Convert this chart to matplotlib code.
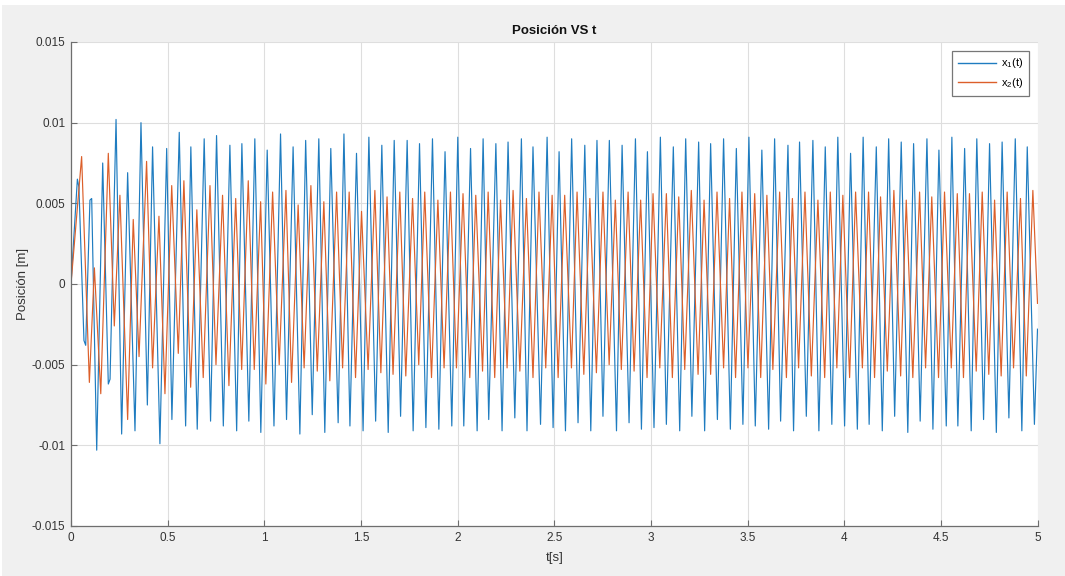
import matplotlib
matplotlib.use("Agg")
import matplotlib.pyplot as plt
from matplotlib.patches import Rectangle

# Turning points of the two displacement responses (time [s], position [m])
t1 = [0.000, 0.033, 0.041, 0.067, 0.076, 0.098, 0.107, 0.133, 0.164, 0.193,
      0.202, 0.233, 0.262, 0.293, 0.331, 0.362, 0.395, 0.422, 0.460, 0.495,
      0.522, 0.560, 0.593, 0.620, 0.653, 0.689, 0.722, 0.753, 0.788, 0.822,
      0.857, 0.884, 0.920, 0.951, 0.982, 1.015, 1.050, 1.084, 1.115, 1.149,
      1.184, 1.214, 1.248, 1.282, 1.313, 1.344, 1.382, 1.412, 1.443, 1.477,
      1.511, 1.541, 1.576, 1.608, 1.641, 1.672, 1.705, 1.739, 1.770, 1.803,
      1.836, 1.870, 1.903, 1.935, 1.970, 2.001, 2.032, 2.067, 2.101, 2.132,
      2.161, 2.198, 2.230, 2.261, 2.296, 2.330, 2.359, 2.390, 2.429, 2.463,
      2.494, 2.525, 2.558, 2.590, 2.623, 2.658, 2.689, 2.721, 2.752, 2.785,
      2.822, 2.851, 2.887, 2.920, 2.951, 2.982, 3.016, 3.049, 3.080, 3.116,
      3.149, 3.180, 3.212, 3.247, 3.278, 3.309, 3.344, 3.376, 3.411, 3.442,
      3.476, 3.507, 3.540, 3.574, 3.609, 3.640, 3.671, 3.709, 3.738, 3.769,
      3.804, 3.838, 3.869, 3.902, 3.936, 3.967, 4.002, 4.033, 4.068, 4.098,
      4.129, 4.166, 4.197, 4.230, 4.261, 4.295, 4.329, 4.359, 4.393, 4.428,
      4.459, 4.490, 4.528, 4.557, 4.588, 4.623, 4.657, 4.686, 4.721, 4.752,
      4.787, 4.817, 4.852, 4.885, 4.919, 4.947, 4.984, 5.000]
x1 = [0.0, 0.0065, 0.0060, -0.0035, -0.0038, 0.0052, 0.0053, -0.0103, 0.0075, -0.0062,
      -0.0059, 0.0102, -0.0093, 0.0069, -0.0091, 0.0100, -0.0075, 0.0085, -0.0099, 0.0084,
      -0.0084, 0.0094, -0.0088, 0.0085, -0.0090, 0.0090, -0.0085, 0.0092, -0.0088, 0.0086,
      -0.0091, 0.0087, -0.0085, 0.0090, -0.0092, 0.0083, -0.0088, 0.0093, -0.0084, 0.0085,
      -0.0093, 0.0089, -0.0081, 0.0090, -0.0092, 0.0084, -0.0086, 0.0093, -0.0088, 0.0081,
      -0.0091, 0.0091, -0.0085, 0.0086, -0.0092, 0.0089, -0.0082, 0.0089, -0.0091, 0.0087,
      -0.0089, 0.0090, -0.0090, 0.0082, -0.0088, 0.0091, -0.0088, 0.0084, -0.0091, 0.0090,
      -0.0084, 0.0087, -0.0091, 0.0088, -0.0083, 0.0090, -0.0091, 0.0085, -0.0087, 0.0091,
      -0.0089, 0.0082, -0.0091, 0.0090, -0.0086, 0.0086, -0.0091, 0.0089, -0.0082, 0.0089,
      -0.0091, 0.0086, -0.0086, 0.0090, -0.0090, 0.0082, -0.0089, 0.0091, -0.0087, 0.0085,
      -0.0091, 0.0090, -0.0082, 0.0088, -0.0091, 0.0087, -0.0084, 0.0090, -0.0090, 0.0084,
      -0.0087, 0.0091, -0.0088, 0.0083, -0.0090, 0.0090, -0.0085, 0.0086, -0.0091, 0.0088,
      -0.0082, 0.0089, -0.0091, 0.0085, -0.0087, 0.0091, -0.0088, 0.0081, -0.0090, 0.0091,
      -0.0087, 0.0085, -0.0091, 0.0090, -0.0082, 0.0088, -0.0092, 0.0087, -0.0085, 0.0090,
      -0.0090, 0.0083, -0.0088, 0.0091, -0.0088, 0.0084, -0.0091, 0.0090, -0.0084, 0.0087,
      -0.0092, 0.0088, -0.0083, 0.0090, -0.0091, 0.0085, -0.0087, -0.0028]

t2 = [0.000, 0.055, 0.095, 0.121, 0.154, 0.193, 0.224, 0.253, 0.293, 0.322,
      0.352, 0.391, 0.422, 0.455, 0.486, 0.521, 0.555, 0.584, 0.619, 0.651,
      0.684, 0.719, 0.750, 0.784, 0.817, 0.852, 0.883, 0.917, 0.948, 0.981,
      1.008, 1.043, 1.077, 1.112, 1.141, 1.175, 1.206, 1.241, 1.274, 1.308,
      1.339, 1.374, 1.405, 1.439, 1.472, 1.503, 1.537, 1.572, 1.603, 1.635,
      1.666, 1.701, 1.732, 1.767, 1.799, 1.830, 1.865, 1.898, 1.930, 1.963,
      1.994, 2.028, 2.063, 2.094, 2.129, 2.158, 2.192, 2.222, 2.256, 2.287,
      2.322, 2.356, 2.390, 2.421, 2.456, 2.489, 2.520, 2.554, 2.589, 2.618,
      2.653, 2.684, 2.718, 2.752, 2.784, 2.816, 2.847, 2.882, 2.913, 2.947,
      2.980, 3.011, 3.046, 3.080, 3.111, 3.144, 3.175, 3.209, 3.244, 3.275,
      3.309, 3.342, 3.376, 3.407, 3.438, 3.471, 3.502, 3.537, 3.568, 3.600,
      3.631, 3.666, 3.701, 3.732, 3.764, 3.797, 3.830, 3.864, 3.899, 3.928,
      3.962, 3.993, 4.028, 4.059, 4.094, 4.126, 4.157, 4.188, 4.223, 4.257,
      4.292, 4.321, 4.355, 4.390, 4.421, 4.453, 4.488, 4.519, 4.554, 4.585,
      4.617, 4.648, 4.683, 4.714, 4.748, 4.778, 4.812, 4.843, 4.876, 4.912,
      4.942, 4.976, 5.000]
x2 = [0.0, 0.0079, -0.0061, 0.0010, -0.0068, 0.0081, -0.0026, 0.0055, -0.0084, 0.0040,
      -0.0045, 0.0076, -0.0052, 0.0042, -0.0068, 0.0061, -0.0043, 0.0064, -0.0064, 0.0046,
      -0.0058, 0.0061, -0.0050, 0.0055, -0.0063, 0.0053, -0.0053, 0.0064, -0.0053, 0.0051,
      -0.0062, 0.0057, -0.0050, 0.0058, -0.0061, 0.0049, -0.0052, 0.0061, -0.0054, 0.0051,
      -0.0060, 0.0057, -0.0052, 0.0057, -0.0058, 0.0045, -0.0053, 0.0058, -0.0055, 0.0054,
      -0.0056, 0.0057, -0.0057, 0.0053, -0.0050, 0.0057, -0.0058, 0.0052, -0.0052, 0.0057,
      -0.0052, 0.0056, -0.0058, 0.0055, -0.0054, 0.0057, -0.0058, 0.0052, -0.0052, 0.0058,
      -0.0054, 0.0053, -0.0058, 0.0057, -0.0052, 0.0055, -0.0058, 0.0055, -0.0052, 0.0057,
      -0.0056, 0.0053, -0.0055, 0.0057, -0.0050, 0.0052, -0.0053, 0.0057, -0.0054, 0.0052,
      -0.0058, 0.0056, -0.0052, 0.0056, -0.0058, 0.0054, -0.0053, 0.0058, -0.0056, 0.0052,
      -0.0056, 0.0057, -0.0052, 0.0053, -0.0058, 0.0057, -0.0052, 0.0056, -0.0058, 0.0055,
      -0.0053, 0.0057, -0.0058, 0.0053, -0.0052, 0.0057, -0.0057, 0.0052, -0.0058, 0.0057,
      -0.0052, 0.0055, -0.0058, 0.0057, -0.0052, 0.0057, -0.0058, 0.0054, -0.0054, 0.0058,
      -0.0057, 0.0052, -0.0058, 0.0057, -0.0052, 0.0054, -0.0058, 0.0057, -0.0052, 0.0056,
      -0.0058, 0.0056, -0.0054, 0.0057, -0.0056, 0.0052, -0.0057, 0.0057, -0.0052, 0.0053,
      -0.0057, 0.0058, -0.0012]

x_ticks = [0, 0.5, 1, 1.5, 2, 2.5, 3, 3.5, 4, 4.5, 5]
x_tick_labels = ["0", "0.5", "1", "1.5", "2", "2.5", "3", "3.5", "4", "4.5", "5"]
y_ticks = [-0.015, -0.01, -0.005, 0, 0.005, 0.01, 0.015]
y_tick_labels = ["-0.015", "-0.01", "-0.005", "0", "0.005", "0.01", "0.015"]
series_labels = ["x$_1$(t)", "x$_2$(t)"]

plt.rcParams["font.family"] = ["Liberation Sans", "DejaVu Sans"]
plt.rcParams["mathtext.fontset"] = "custom"
plt.rcParams["mathtext.rm"] = "Liberation Sans"
plt.rcParams["mathtext.it"] = "Liberation Sans"

W, H = 1065, 576
fig = plt.figure(figsize=(W / 100, H / 100), dpi=100, facecolor="white")
# grey window background inside a thin white margin
bg = Rectangle((2 / W, 0), 1 - 2 / W, 1 - 5 / H, transform=fig.transFigure,
               facecolor="#f0f0f0", edgecolor="none", zorder=-10)
fig.add_artist(bg)

ax = fig.add_axes([71 / W, (H - 526) / H, 966.5 / W, 484 / H])
ax.set_facecolor("white")

ax.plot(t1, x1, color="#1f7cc0", lw=0.85, label=series_labels[0])
ax.plot(t2, x2, color="#dc5f2a", lw=0.85, label=series_labels[1])

ax.set_xlim(0, 5)
ax.set_ylim(-0.015, 0.015)
ax.set_xticks(x_ticks)
ax.set_xticklabels(x_tick_labels)
ax.set_yticks(y_ticks)
ax.set_yticklabels(y_tick_labels)

ax.grid(True, color="#dedede", lw=0.8)
ax.set_axisbelow(True)
for side in ("top", "right"):
    ax.spines[side].set_visible(False)
for side in ("left", "bottom"):
    ax.spines[side].set_color("#6e6e6e")
    ax.spines[side].set_linewidth(0.9)
ax.tick_params(direction="in", length=4, width=0.8, color="#6e6e6e",
               labelsize=8.5, labelcolor="#333333", pad=4)

ax.set_title("Posición VS t", fontsize=9.5, fontweight="bold", color="#111111", pad=6)
ax.set_xlabel("t[s]", fontsize=9.5, color="#333333", labelpad=6)
ax.set_ylabel("Posición [m]", fontsize=9.5, color="#333333", labelpad=2)

leg = ax.legend(loc="upper right", fontsize=8, frameon=True, fancybox=False,
                handlelength=3.5, borderaxespad=0.8, handletextpad=0.4,
                borderpad=0.5, labelspacing=0.5)
leg.get_frame().set_edgecolor("#555555")
leg.get_frame().set_linewidth(0.9)
for line in leg.get_lines():
    line.set_linewidth(1.0)

fig.savefig("out.png", dpi=100, facecolor=fig.get_facecolor())
